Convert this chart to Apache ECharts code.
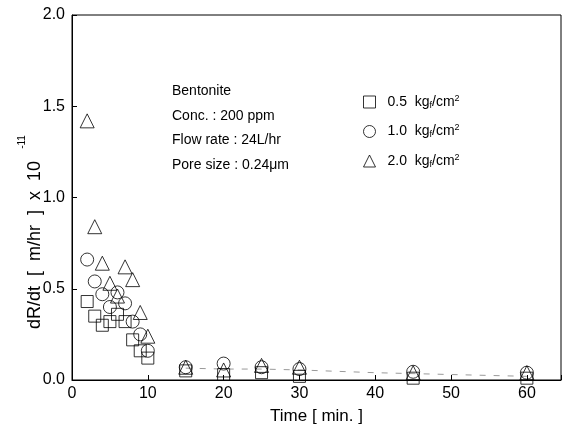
<!DOCTYPE html>
<html>
<head>
<meta charset="utf-8">
<script src="https://cdn.jsdelivr.net/npm/echarts@6/dist/echarts.min.js"></script>
<style>html,body{margin:0;padding:0;background:#fff;}#c{width:564px;height:433px;}</style>
</head>
<body>
<div id="c"></div>
<script>
var timeEarly = [2, 3, 4, 5, 6, 7, 8, 9, 10];
var timeLate = [15, 20, 25, 30, 45, 60];
var p05Early = [0.43, 0.35, 0.30, 0.32, 0.36, 0.32, 0.22, 0.16, 0.12];
var p05Late = [0.05, 0.03, 0.04, 0.02, 0.01, 0.01];
var p10Early = [0.66, 0.54, 0.47, 0.40, 0.48, 0.42, 0.32, 0.25, 0.16];
var p10Late = [0.07, 0.09, 0.07, 0.06, 0.045, 0.04];
var p20Early = [1.42, 0.84, 0.64, 0.53, 0.46, 0.62, 0.55, 0.37, 0.24];
var p20Late = [0.07, 0.055, 0.08, 0.07, 0.04, 0.04];
var trendTime = [15, 20, 25, 30, 40, 50, 60];
var trendValues = [0.065, 0.06, 0.06, 0.055, 0.04, 0.03, 0.02];
var xTicks = [0, 10, 20, 30, 40, 50, 60];
var yTicks = [0.0, 0.5, 1.0, 1.5, 2.0];
var seriesNames = ['0.5', '1.0', '2.0'];
var infoLines = ['Bentonite', 'Conc. : 200 ppm', 'Flow rate : 24L/hr', 'Pore size : 0.24\u03bcm'];

function pairs(xs, ys) { return xs.map(function (x, i) { return [x, ys[i]]; }); }
var allTime = timeEarly.concat(timeLate);
var data05 = pairs(allTime, p05Early.concat(p05Late));
var data10 = pairs(allTime, p10Early.concat(p10Late));
var data20 = pairs(allTime, p20Early.concat(p20Late));

var FONT = 'Liberation Sans, Arial, sans-serif';
var chart = echarts.init(document.getElementById('c'));
var hollow = { color: 'rgba(255,255,255,0)', borderColor: '#000', borderWidth: 1 };

var infoGraphics = infoLines.map(function (t, i) {
  return { type: 'text', x: 172, y: 91 + i * 24.7,
    style: { text: t, font: '14px ' + FONT, fill: '#000', verticalAlign: 'middle' } };
});

chart.setOption({
  animation: false,
  grid: { left: 72, top: 15, right: 2, bottom: 53, show: true, borderColor: '#000', borderWidth: 1 },
  xAxis: {
    type: 'value', min: 0, max: 64.5, interval: 10,
    name: 'Time [ min. ]', nameLocation: 'middle', nameGap: 28,
    nameTextStyle: { fontSize: 17, fontFamily: FONT, color: '#000' },
    axisLine: { lineStyle: { color: '#000', width: 1 } },
    axisTick: { inside: true, length: 5, lineStyle: { color: '#000' } },
    axisLabel: { fontSize: 16, fontFamily: FONT, color: '#000', margin: 6,
      formatter: function (v) { return xTicks.indexOf(v) >= 0 ? String(v) : ''; } },
    splitLine: { show: false }
  },
  yAxis: {
    type: 'value', min: 0, max: 2.0, interval: 0.5,
    axisLine: { show: true, lineStyle: { color: '#000', width: 1 } },
    axisTick: { show: true, inside: true, length: 5, lineStyle: { color: '#000' } },
    axisLabel: { fontSize: 16, fontFamily: FONT, color: '#000', margin: 7,
      formatter: function (v) { return yTicks.indexOf(v) >= 0 ? v.toFixed(1) : ''; } },
    splitLine: { show: false }
  },
  legend: {
    orient: 'vertical', left: 358, top: 89, itemGap: 13.5, itemWidth: 12, itemHeight: 12,
    itemStyle: { borderWidth: 1, borderColor: '#000', color: 'rgba(255,255,255,0)' },
    data: seriesNames,
    formatter: function (n) { return '{a|' + n + '  kg}{s|f}{a|/cm}{p|2}'; },
    textStyle: { color: '#000', fontFamily: FONT, padding: [0, 0, 0, 7],
      rich: {
        a: { fontSize: 14, fontFamily: FONT, color: '#000' },
        s: { fontSize: 9, fontFamily: FONT, color: '#000', verticalAlign: 'bottom', padding: [7, 0, 0, 0] },
        p: { fontSize: 9, fontFamily: FONT, color: '#000', verticalAlign: 'top', padding: [0, 0, 7, 0] }
      } }
  },
  graphic: infoGraphics.concat([
    { type: 'text', x: 35, y: 245, rotation: Math.PI / 2,
      style: { text: 'dR/dt  [  m/hr  ]  x  10', font: '18px ' + FONT, fill: '#000', align: 'center', verticalAlign: 'middle' } },
    { type: 'text', x: 22, y: 142, rotation: Math.PI / 2,
      style: { text: '-11', font: '10px ' + FONT, fill: '#000', align: 'center', verticalAlign: 'middle' } }
  ]),
  series: [
    { name: 'trend', type: 'line', data: pairs(trendTime, trendValues), symbol: 'none',
      lineStyle: { color: '#999', width: 1, type: [6, 8] }, z: 1, silent: true },
    { name: seriesNames[0], type: 'scatter', data: data05, symbol: 'rect', symbolSize: 12, itemStyle: hollow, z: 3 },
    { name: seriesNames[1], type: 'scatter', data: data10, symbol: 'circle', symbolSize: 13, itemStyle: hollow, z: 3 },
    { name: seriesNames[2], type: 'scatter', data: data20, symbol: 'triangle', symbolSize: 14, itemStyle: hollow, z: 3 }
  ]
});
</script>
</body>
</html>
